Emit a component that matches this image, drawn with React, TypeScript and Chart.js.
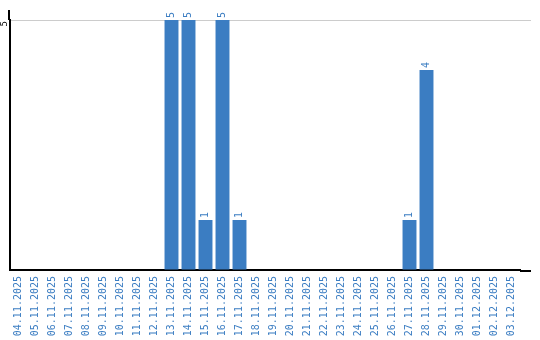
import React, { useEffect, useRef } from "react";
import { Chart, registerables } from "chart.js";

Chart.register(...registerables);

const categories: string[] = [
  "04.11.2025", "05.11.2025", "06.11.2025", "07.11.2025", "08.11.2025",
  "09.11.2025", "10.11.2025", "11.11.2025", "12.11.2025", "13.11.2025",
  "14.11.2025", "15.11.2025", "16.11.2025", "17.11.2025", "18.11.2025",
  "19.11.2025", "20.11.2025", "21.11.2025", "22.11.2025", "23.11.2025",
  "24.11.2025", "25.11.2025", "26.11.2025", "27.11.2025", "28.11.2025",
  "29.11.2025", "30.11.2025", "01.12.2025", "02.12.2025", "03.12.2025",
];
const values: number[] = [
  0, 0, 0, 0, 0, 0, 0, 0, 0, 5,
  5, 1, 5, 1, 0, 0, 0, 0, 0, 0,
  0, 0, 0, 1, 4, 0, 0, 0, 0, 0,
];
const yTicks: number[] = [5];

const BLUE = "#3b7dc2";
const FONT = "'DejaVu Sans Mono', monospace";

const decoPlugin = {
  id: "deco",
  afterDatasetsDraw(chart: any) {
    const ctx = chart.ctx;
    const meta = chart.getDatasetMeta(0);
    ctx.save();
    ctx.font = `10px ${FONT}`;
    ctx.fillStyle = BLUE;
    meta.data.forEach((bar: any, i: number) => {
      const v = values[i];
      if (!v) return;
      ctx.save();
      ctx.translate(bar.x, bar.y - 2);
      ctx.rotate(-Math.PI / 2);
      ctx.textAlign = "left";
      ctx.textBaseline = "middle";
      ctx.fillText(String(v), 0, 0);
      ctx.restore();
    });
    const y = chart.scales.y;
    const area = chart.chartArea;
    ctx.fillStyle = "#000";
    ctx.font = `9px ${FONT}`;
    yTicks.forEach((t) => {
      const py = y.getPixelForValue(t);
      ctx.save();
      ctx.translate(area.left - 5, py + 1);
      ctx.rotate(-Math.PI / 2);
      ctx.textAlign = "right";
      ctx.textBaseline = "middle";
      ctx.fillText(String(t), 0, 0);
      ctx.restore();
      ctx.strokeStyle = "#cccccc";
      ctx.lineWidth = 1;
      ctx.beginPath();
      ctx.moveTo(area.right, Math.round(py) + 0.5);
      ctx.lineTo(area.right + 11, Math.round(py) + 0.5);
      ctx.stroke();
    });
    ctx.strokeStyle = "#000";
    ctx.lineWidth = 2;
    ctx.beginPath();
    ctx.moveTo(area.right, area.bottom + 1);
    ctx.lineTo(area.right + 11, area.bottom + 1);
    ctx.stroke();
    ctx.beginPath();
    ctx.moveTo(area.left - 1, area.top);
    ctx.lineTo(area.left - 1, area.top - 10);
    ctx.stroke();
    ctx.restore();
  },
};

export default function App() {
  const ref = useRef<HTMLCanvasElement>(null);
  useEffect(() => {
    if (!ref.current) return;
    const chart = new Chart(ref.current, {
      type: "bar",
      data: {
        labels: categories,
        datasets: [
          {
            data: values,
            backgroundColor: BLUE,
            categoryPercentage: 1,
            barPercentage: 0.82,
          },
        ],
      },
      options: {
        responsive: false,
        animation: false,
        layout: { padding: { left: 10, top: 20, right: 20, bottom: 0 } },
        plugins: { legend: { display: false }, tooltip: { enabled: false } },
        scales: {
          x: {
            grid: { display: false, drawTicks: false },
            border: { color: "#000", width: 2 },
            afterFit: (scale: any) => {
              scale.height = 70;
            },
            ticks: {
              color: BLUE,
              font: { family: FONT, size: 10 },
              minRotation: 90,
              maxRotation: 90,
              autoSkip: false,
              padding: 6,
            },
          },
          y: {
            min: 0,
            max: 5,
            grid: { color: "#cccccc", drawTicks: false },
            border: { color: "#000", width: 2 },
            ticks: { display: false, stepSize: 5 },
          },
        },
      },
      plugins: [decoPlugin],
    });
    return () => chart.destroy();
  }, []);
  return (
    <div style={{ position: "absolute", left: 0, top: 0, width: 540, height: 340, background: "#fff" }}>
      <canvas ref={ref} width={540} height={340} />
    </div>
  );
}
